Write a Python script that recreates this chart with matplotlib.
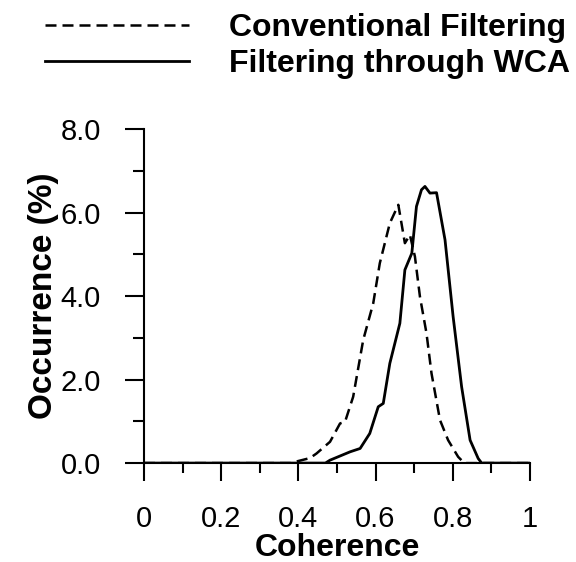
import matplotlib.pyplot as plt
from matplotlib.ticker import MultipleLocator

plt.rcParams['font.family'] = ['Liberation Sans', 'DejaVu Sans']

# Conventional filtering (dashed)
coh_conv = [0.0, 0.38, 0.40, 0.43, 0.447, 0.482, 0.508, 0.521, 0.542, 0.568, 0.594, 0.611,
            0.637, 0.659, 0.676, 0.689, 0.702, 0.715, 0.732, 0.745, 0.767, 0.788,
            0.814, 0.83, 1.0]
occ_conv = [0.0, 0.0, 0.05, 0.12, 0.23, 0.51, 0.95, 0.99, 1.59, 2.95, 3.83, 4.79,
            5.75, 6.19, 5.27, 5.47, 4.95, 3.99, 3.11, 2.15, 1.03, 0.55,
            0.15, 0.0, 0.0]

# Filtering through WCA (solid)
coh_wca = [0.0, 0.47, 0.482, 0.534, 0.56, 0.585, 0.607, 0.62, 0.637, 0.663, 0.676,
           0.694, 0.706, 0.719, 0.728, 0.741, 0.758, 0.780, 0.801, 0.823, 0.845,
           0.866, 0.875, 1.0]
occ_wca = [0.0, 0.0, 0.07, 0.27, 0.35, 0.71, 1.35, 1.43, 2.39, 3.35, 4.63,
           5.03, 6.15, 6.55, 6.63, 6.47, 6.48, 5.35, 3.51, 1.83, 0.55,
           0.11, 0.0, 0.0]

fig = plt.figure(figsize=(5.76, 5.62), dpi=100)
ax = fig.add_axes([0.25, 0.176, 0.67, 0.594])

ax.plot(coh_conv, occ_conv, color='black', lw=1.8, linestyle=(0, (4.4, 2.4)),
        label='Conventional Filtering')
ax.plot(coh_wca, occ_wca, color='black', lw=2.0, label='Filtering through WCA')

ax.set_xlim(0, 1)
ax.set_ylim(0, 8)
ax.spines['top'].set_visible(False)
ax.spines['right'].set_visible(False)
ax.spines['left'].set_linewidth(1.5)
ax.spines['bottom'].set_linewidth(1.5)

ax.xaxis.set_minor_locator(MultipleLocator(0.1))
ax.yaxis.set_minor_locator(MultipleLocator(1))
ax.set_xticks([0, 0.2, 0.4, 0.6, 0.8, 1.0])
ax.set_xticklabels(['0', '0.2', '0.4', '0.6', '0.8', '1'])
ax.set_yticks([0, 2, 4, 6, 8])
ax.set_yticklabels(['0.0', '2.0', '4.0', '6.0', '8.0'])

ax.tick_params(axis='x', which='major', direction='out', length=13, width=1.5,
               pad=17, labelsize=21)
ax.tick_params(axis='x', which='minor', direction='out', length=7, width=1.5)
ax.tick_params(axis='y', which='major', direction='out', length=14, width=1.5,
               pad=17, labelsize=21)
ax.tick_params(axis='y', which='minor', direction='out', length=8, width=1.5)

ax.set_xlabel('Coherence', fontsize=23, fontweight='bold', labelpad=0)
ax.set_ylabel('Occurrence (%)', fontsize=24, fontweight='bold', labelpad=1)

ax.legend(loc='upper right', bbox_to_anchor=(1.012, 1.0), bbox_transform=fig.transFigure,
          frameon=False, prop={'weight': 'bold', 'size': 23},
          handlelength=4.5, handletextpad=1.25, labelspacing=0.2, borderaxespad=0)

fig.savefig('out.png', dpi=100)
